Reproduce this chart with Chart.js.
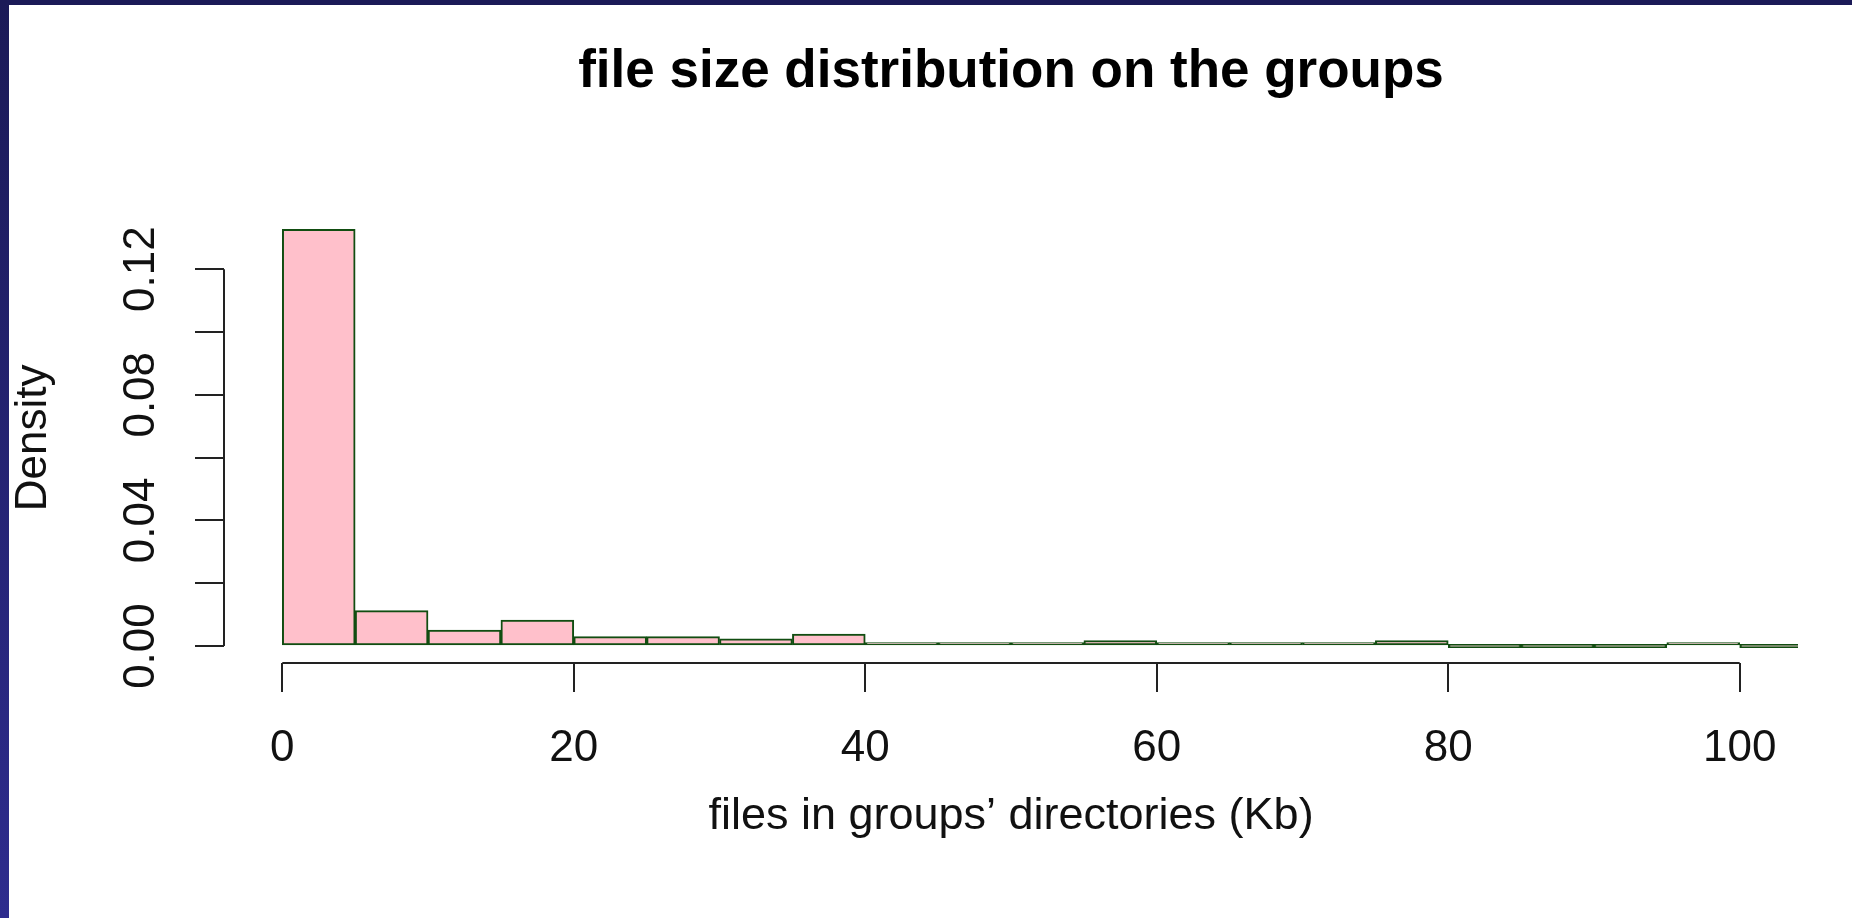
<!DOCTYPE html>
<html>
<head>
<meta charset="utf-8">
<title>file size distribution on the groups</title>
<script src="https://cdn.jsdelivr.net/npm/chart.js@4/dist/chart.umd.min.js"></script>
<style>
	body { margin: 0; background: #fff; overflow: hidden; }
	#wrap { position: relative; width: 1852px; height: 918px; }
	#histogram { position: absolute; left: 0; top: 0; }
	.bar-top { position: absolute; left: 0; top: 0; width: 1852px; height: 5px; background: #1b1a57; }
	.bar-left { position: absolute; left: 0; top: 0; width: 9px; height: 918px; background: linear-gradient(#1b1a57, #2e2c8e); }
</style>
</head>
<body>
<div id="wrap">
	<canvas id="histogram" width="1852" height="918"></canvas>
	<div class="bar-top"></div>
	<div class="bar-left"></div>
</div>

<script>

	// histogram bins (Kb), 5 wide, and density
	var binStart = [0, 5, 10, 15, 20, 25, 30, 35, 40, 45, 50, 55, 60, 65, 70, 75, 80, 85, 90, 95, 100, 105];
	var binEnd = [5, 10, 15, 20, 25, 30, 35, 40, 45, 50, 55, 60, 65, 70, 75, 80, 85, 90, 95, 100, 105, 110];
	var density = [0.1327, 0.0113, 0.0051, 0.0083, 0.0030, 0.0030, 0.0023, 0.0038, 0.0010, 0.0010, 0.0010, 0.0017, 0.0009, 0.0009, 0.0009, 0.0017, 0, 0, 0, 0.0010, 0, 0];

	var xTicks = [0, 20, 40, 60, 80, 100];
	var yTickLabels = ['0.00', '0.04', '0.08', '0.12'];

	var fontFamily = '"Liberation Sans", Arial, sans-serif';

	var points = [];
	for (var i = 0; i < binStart.length; i++) {
		points.push({ x: (binStart[i] + binEnd[i]) / 2, y: density[i] });
	}

	// R style axis lines: only from first to last tick
	var rAxes = {
		id: 'rAxes',
		afterDraw: function (chart) {
			var ctx = chart.ctx;
			var xs = chart.scales.x, ys = chart.scales.y;
			var area = chart.chartArea;
			ctx.save();
			ctx.strokeStyle = '#222';
			ctx.lineWidth = 2;
			ctx.beginPath();
			ctx.moveTo(xs.getPixelForValue(xTicks[0]), area.bottom);
			ctx.lineTo(xs.getPixelForValue(xTicks[xTicks.length - 1]), area.bottom);
			ctx.moveTo(area.left, ys.getPixelForValue(0));
			ctx.lineTo(area.left, ys.getPixelForValue(0.12));
			ctx.stroke();
			ctx.restore();
		}
	};

	new Chart(document.getElementById('histogram'), {
		type: 'bar',
		data: {
			datasets: [{
				data: points,
				backgroundColor: '#ffc0cb',
				borderColor: '#114d11',
				borderWidth: 2,
				borderSkipped: false,
				minBarLength: 3.5,
				barPercentage: 1,
				categoryPercentage: 1
			}]
		},
		options: {
			responsive: false,
			animation: false,
			layout: { padding: { left: 0, right: 54, top: 0, bottom: 0 } },
			plugins: {
				legend: { display: false },
				tooltip: { enabled: false },
				title: {
					display: true,
					text: 'file size distribution on the groups',
					fullSize: false,
					color: '#000',
					font: { family: fontFamily, size: 53, weight: 'bold' },
					padding: { top: 41, bottom: 108 }
				}
			},
			scales: {
				x: {
					type: 'linear',
					min: -4,
					max: 104,
					offset: false,
					afterFit: function (scale) { scale.height = 255; },
					afterBuildTicks: function (scale) {
						scale.ticks = xTicks.map(function (v) { return { value: v }; });
					},
					ticks: {
						autoSkip: false,
						maxRotation: 0,
						padding: 30,
						color: '#111',
						font: { family: fontFamily, size: 44 },
						callback: function (v) { return String(v); }
					},
					grid: { offset: false, drawOnChartArea: false, drawTicks: true, tickLength: 29, color: '#222', lineWidth: 2 },
					border: { display: false },
					title: {
						display: true,
						text: 'files in groups\u2019 directories (Kb)',
						color: '#111',
						font: { family: fontFamily, size: 45 },
						padding: { top: 0, bottom: 74 }
					}
				},
				y: {
					min: -0.0054,
					max: 0.138,
					afterFit: function (scale) { scale.width = 224; },
					afterBuildTicks: function (scale) {
						var t = [];
						for (var k = 0; k <= 6; k++) t.push({ value: Math.round(k * 2) / 100 });
						scale.ticks = t;
					},
					ticks: {
						autoSkip: false,
						minRotation: 90,
						maxRotation: 90,
						crossAlign: 'center',
						padding: 10,
						color: '#111',
						font: { family: fontFamily, size: 44 },
						callback: function (v) {
							var s = v.toFixed(2);
							return yTickLabels.indexOf(s) >= 0 ? s : '';
						}
					},
					grid: { drawOnChartArea: false, drawTicks: true, tickLength: 29, color: '#222', lineWidth: 2 },
					border: { display: false },
					title: {
						display: true,
						text: 'Density',
						color: '#111',
						font: { family: fontFamily, size: 44 },
						padding: { top: 7, bottom: 0 }
					}
				}
			}
		},
		plugins: [rAxes]
	});

</script>
</body>
</html>
